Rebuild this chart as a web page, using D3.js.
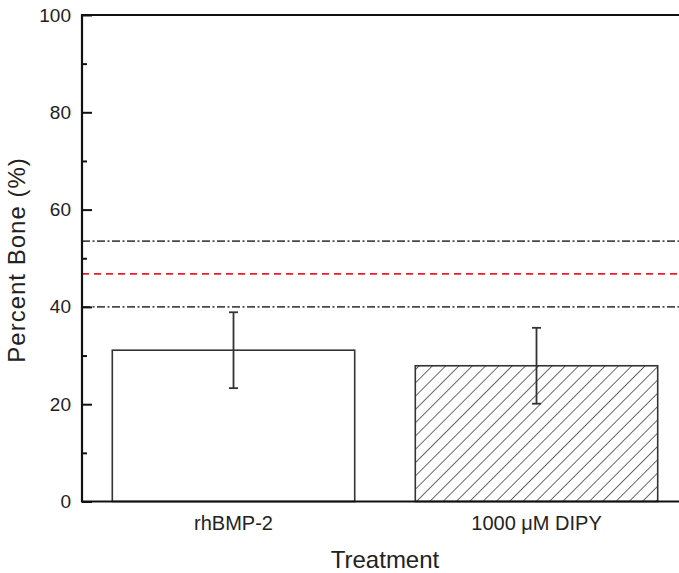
<!DOCTYPE html>
<html>
<head>
<meta charset="utf-8">
<script src="https://cdn.jsdelivr.net/npm/d3@7"></script>
<style>
  body { margin: 0; background: #fff; }
  text { font-family: "Liberation Sans", Arial, sans-serif; fill: #222; }
</style>
</head>
<body>
<div id="chart"></div>
<script>
// data
var categories = ["rhBMP-2", "1000 \u03bcM DIPY"];
var means = [31.1, 27.9];
var errs = [7.8, 7.8];
var fills = ["plain", "hatch"];
// reference band: mean +/- sd of a control group
var refValues = [53.5, 46.8, 40.0];
var refStyles = ["dashdot", "dash", "dashdot"];
var yTicks = [0, 20, 40, 60, 80, 100];
var yMinor = [10, 30, 50, 70, 90];

var svgWidth = 679, svgHeight = 573;
var margin = { top: 15, left: 82, bottom: 71 };
var plotRight = 688; // right frame sits just off the picture

var svg = d3.select("#chart").append("svg")
  .attr("width", svgWidth)
  .attr("height", svgHeight);

var defs = svg.append("defs");
var pat = defs.append("pattern")
  .attr("id", "hatch")
  .attr("patternUnits", "userSpaceOnUse")
  .attr("width", 9.4)
  .attr("height", 9.4)
  .attr("patternTransform", "rotate(45)");
pat.append("line")
  .attr("x1", 0).attr("y1", 0).attr("x2", 0).attr("y2", 9.4)
  .attr("stroke", "#2a2a2a").attr("stroke-width", 1.4);

var xScale = d3.scaleBand()
  .domain(categories)
  .range([margin.left, plotRight])
  .paddingInner(0.2)
  .paddingOuter(0.1);

var yScale = d3.scaleLinear()
  .domain([0, 100])
  .range([svgHeight - margin.bottom - 0.5, margin.top]);

// reference lines
var dashes = { dashdot: "8,2.5,2,2.5", dash: "7,5" };
svg.selectAll(".ref")
  .data(refValues)
  .enter()
  .append("line")
  .attr("class", "ref")
  .attr("x1", margin.left)
  .attr("x2", plotRight)
  .attr("y1", d => yScale(d))
  .attr("y2", d => yScale(d))
  .attr("stroke", (d, i) => refStyles[i] === "dash" ? "#f01e24" : "#4a4a4a")
  .attr("stroke-width", 1.7)
  .attr("stroke-dasharray", (d, i) => dashes[refStyles[i]]);

// bars
svg.selectAll(".bar")
  .data(means)
  .enter()
  .append("rect")
  .attr("class", "bar")
  .attr("x", (d, i) => xScale(categories[i]))
  .attr("y", d => yScale(d))
  .attr("width", xScale.bandwidth())
  .attr("height", d => yScale(0) - yScale(d))
  .attr("fill", (d, i) => fills[i] === "hatch" ? "url(#hatch)" : "#fff")
  .attr("stroke", "#333")
  .attr("stroke-width", 1.6);

// error bars
var errGroup = svg.selectAll(".err")
  .data(means)
  .enter()
  .append("g")
  .attr("class", "err")
  .attr("stroke", "#333")
  .attr("stroke-width", 1.8);

errGroup.append("line")
  .attr("x1", (d, i) => xScale(categories[i]) + xScale.bandwidth() / 2)
  .attr("x2", (d, i) => xScale(categories[i]) + xScale.bandwidth() / 2)
  .attr("y1", (d, i) => yScale(d + errs[i]))
  .attr("y2", (d, i) => yScale(d - errs[i]));

[1, -1].forEach(function(s) {
  errGroup.append("line")
    .attr("x1", (d, i) => xScale(categories[i]) + xScale.bandwidth() / 2 - 4.5)
    .attr("x2", (d, i) => xScale(categories[i]) + xScale.bandwidth() / 2 + 4.5)
    .attr("y1", (d, i) => yScale(d + s * errs[i]))
    .attr("y2", (d, i) => yScale(d + s * errs[i]));
});

// y axis with inward ticks
var yAxis = d3.axisLeft(yScale)
  .tickValues(yTicks)
  .tickSize(-10)
  .tickPadding(11)
  .tickFormat(d3.format("d"));

var yG = svg.append("g")
  .attr("transform", `translate(${margin.left}, 0)`)
  .call(yAxis);
yG.select(".domain").remove();
yG.selectAll(".tick line").attr("stroke", "#111").attr("stroke-width", 2);
yG.selectAll(".tick text")
  .style("font-size", "19px")
  .attr("fill", "#222");

var yMinorAxis = d3.axisLeft(yScale)
  .tickValues(yMinor)
  .tickSize(-5)
  .tickFormat("");
var yM = svg.append("g")
  .attr("transform", `translate(${margin.left}, 0)`)
  .call(yMinorAxis);
yM.select(".domain").remove();
yM.selectAll(".tick line").attr("stroke", "#111").attr("stroke-width", 2);

// x axis labels only
var xAxis = d3.axisBottom(xScale).tickSize(0).tickPadding(14);
var xG = svg.append("g")
  .attr("transform", `translate(0, ${yScale(0)})`)
  .call(xAxis);
xG.select(".domain").remove();
xG.selectAll(".tick text")
  .style("font-size", "20px")
  .attr("fill", "#222");

// frame
var frame = svg.append("g")
  .attr("fill", "none")
  .attr("stroke", "#111")
  .attr("stroke-width", 2.2);
frame.append("path")
  .attr("d", d3.line()([
    [plotRight, yScale(100)],
    [margin.left, yScale(100)],
    [margin.left, yScale(0)],
    [plotRight, yScale(0)]
  ]));

// axis titles
svg.append("text")
  .attr("x", 385)
  .attr("y", 568)
  .attr("text-anchor", "middle")
  .style("font-size", "24px")
  .text("Treatment");

svg.append("text")
  .attr("transform", "translate(25, 260) rotate(-90)")
  .attr("text-anchor", "middle")
  .style("font-size", "24px")
  .style("letter-spacing", "1px")
  .text("Percent Bone (%)");
</script>
</body>
</html>
